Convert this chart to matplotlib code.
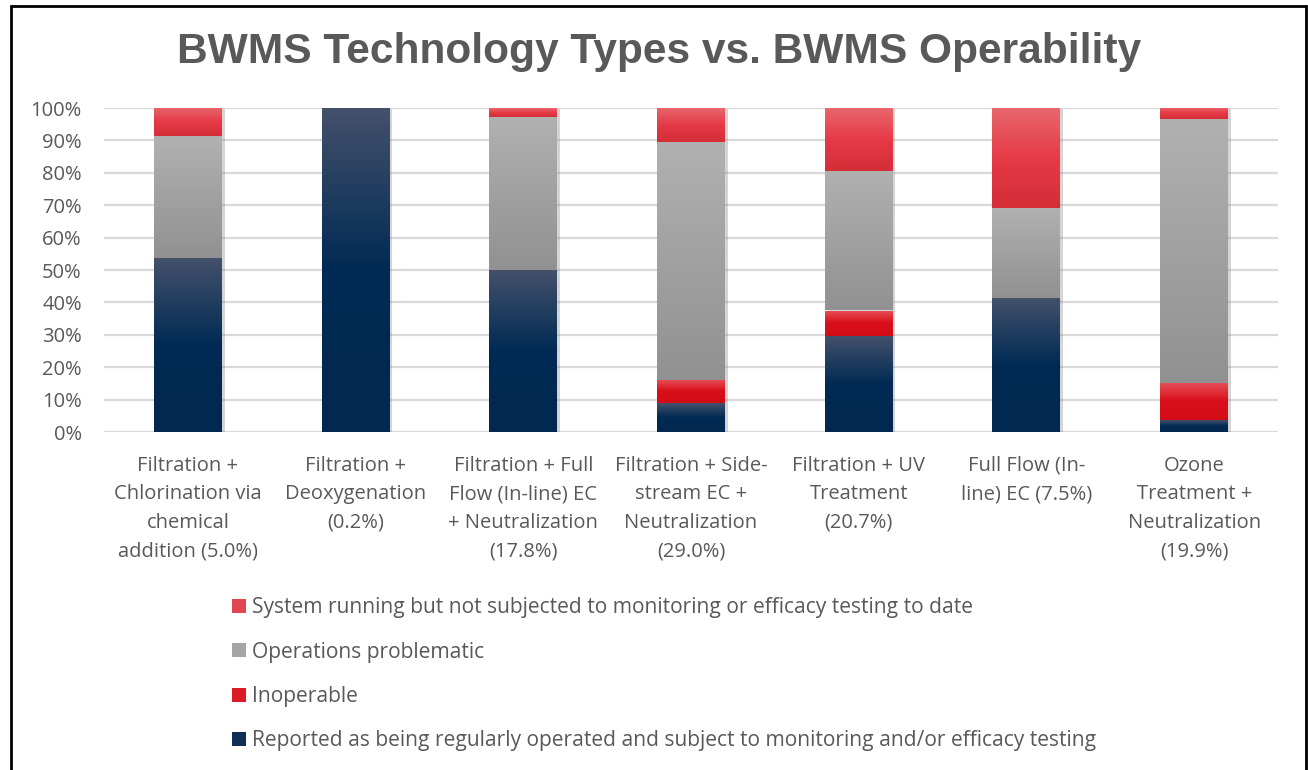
import matplotlib
matplotlib.use('Agg')
import matplotlib.pyplot as plt
import matplotlib.patheffects as pe
from matplotlib.colors import LinearSegmentedColormap
from matplotlib.patches import Rectangle, Patch
import numpy as np

plt.rcParams['font.family'] = ['Open Sans', 'DejaVu Sans']

categories = ['Filtration +\nChlorination via\nchemical\naddition (5.0%)',
              'Filtration +\nDeoxygenation\n(0.2%)',
              'Filtration + Full\nFlow (In-line) EC\n+ Neutralization\n(17.8%)',
              'Filtration + Side-\nstream EC +\nNeutralization\n(29.0%)',
              'Filtration + UV\nTreatment\n(20.7%)',
              'Full Flow (In-\nline) EC (7.5%)',
              'Ozone\nTreatment +\nNeutralization\n(19.9%)']

regular = [53.7, 100.0, 50.0, 8.8, 29.6, 41.3, 3.6]
inoperable = [0.0, 0.0, 0.0, 7.1, 7.9, 0.0, 11.6]
problematic = [37.6, 0.0, 47.3, 73.7, 43.1, 27.9, 81.4]
not_monitored = [8.7, 0.0, 2.7, 10.4, 19.4, 30.8, 3.4]

series_names = ['Reported as being regularly operated and subject to monitoring and/or efficacy testing',
                'Inoperable',
                'Operations problematic',
                'System running but not subjected to monitoring or efficacy testing to date']

# gradient stops (top -> bottom) and flat legend colours
gradients = [
    [(0.0, '#44516b'), (0.5, '#002a54'), (1.0, '#002850')],
    [(0.0, '#e6525a'), (0.5, '#d80f1a'), (1.0, '#d20c16')],
    [(0.0, '#b1b1b1'), (1.0, '#919191')],
    [(0.0, '#e8676d'), (0.5, '#e63a47'), (1.0, '#d42e37')],
]
legend_colors = ['#0f2f57', '#dc1b25', '#a5a5a5', '#e1454f']

fig = plt.figure(figsize=(13.08, 7.70), dpi=100)
ax = fig.add_axes([104 / 1308, 1 - 432 / 770, (1278 - 104) / 1308, 324 / 770])

x = np.arange(len(categories))
width = 0.405
data = [np.array(regular), np.array(inoperable), np.array(problematic), np.array(not_monitored)]
bottom = np.zeros(len(categories))

grad = np.linspace(1, 0, 256).reshape(-1, 1)
for vals, stops in zip(data, gradients):
    cmap = LinearSegmentedColormap.from_list('g', [(1 - p, c) for p, c in stops[::-1]])
    bars = ax.bar(x, vals / 100, width, bottom=bottom / 100, color='none', zorder=2,
                  path_effects=[pe.SimplePatchShadow(offset=(2, -1), shadow_rgbFace='#888888', alpha=0.35)])
    for b, v in zip(bars, vals):
        if v <= 0:
            continue
        x0, y0 = b.get_x(), b.get_y()
        im = ax.imshow(grad, extent=[x0, x0 + b.get_width(), y0, y0 + b.get_height()],
                       aspect='auto', cmap=cmap, vmin=0, vmax=1, origin='upper',
                       zorder=3, interpolation='bilinear')
        im.set_clip_path(b)
    bottom = bottom + vals

ax.set_xlim(-0.5, len(categories) - 0.5)
ax.set_ylim(0, 1)
ax.set_yticks(np.arange(0, 1.01, 0.1))
ax.set_yticklabels([f'{int(round(v * 100))}%' for v in np.arange(0, 1.01, 0.1)])
ax.set_xticks(x)
ax.set_xticklabels(categories, linespacing=1.57)
ax.tick_params(axis='both', length=0, labelsize=14.5, labelcolor='#595959')
ax.tick_params(axis='y', pad=16)
ax.tick_params(axis='x', pad=17)
ax.grid(axis='y', color='#d9d9d9', linewidth=1.6, zorder=0)
ax.set_axisbelow(True)
for s in ax.spines.values():
    s.set_visible(False)

fig.text(0.5035, 1 - 52 / 770, 'BWMS Technology Types vs. BWMS Operability',
         ha='center', va='center', fontsize=30.6, fontweight='bold', color='#595959',
         family=['Liberation Sans', 'DejaVu Sans'])

handles = [Patch(facecolor=c, edgecolor='none') for c in legend_colors]
fig.legend(handles[::-1], series_names[::-1], loc='upper left', bbox_to_anchor=(224 / 1308, 1 - 589 / 770),
           frameon=False, fontsize=15.1, labelcolor='#595959', handlelength=0.65, handleheight=0.65,
           handletextpad=0.3, labelspacing=1.11, borderaxespad=0)

fig.add_artist(Rectangle((11 / 1308, -0.05), (1306 - 11) / 1308, 1.05 - 6 / 770,
                         transform=fig.transFigure, fill=False, edgecolor='black', linewidth=2))

fig.savefig('out.png', dpi=100)
